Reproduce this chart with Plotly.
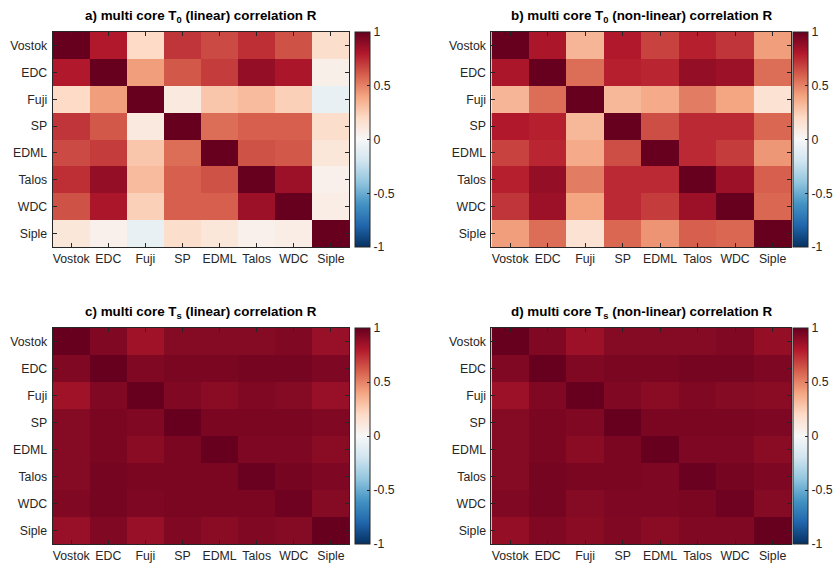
import plotly.graph_objects as go

cores = ["Vostok", "EDC", "Fuji", "SP", "EDML", "Talos", "WDC", "Siple"]
tick_vals = [-1, -0.5, 0, 0.5, 1]
tick_text = ["-1", "-0.5", "0", "0.5", "1"]

titles = [
    "<b>a) multi core T<sub>0</sub> (linear) correlation R</b>",
    "<b>b) multi core T<sub>0</sub> (non-linear) correlation R</b>",
    "<b>c) multi core T<sub>s</sub> (linear) correlation R</b>",
    "<b>d) multi core T<sub>s</sub> (non-linear) correlation R</b>",
]

r_t0_linear = [
    [1.00, 0.80, 0.20, 0.72, 0.66, 0.74, 0.64, 0.18],
    [0.80, 1.00, 0.42, 0.62, 0.70, 0.88, 0.82, 0.06],
    [0.20, 0.42, 1.00, 0.10, 0.28, 0.32, 0.24, -0.08],
    [0.72, 0.62, 0.10, 1.00, 0.56, 0.60, 0.60, 0.18],
    [0.66, 0.70, 0.28, 0.56, 1.00, 0.64, 0.62, 0.12],
    [0.74, 0.88, 0.32, 0.60, 0.64, 1.00, 0.86, 0.05],
    [0.64, 0.82, 0.24, 0.60, 0.60, 0.86, 1.00, 0.07],
    [0.12, 0.05, -0.08, 0.18, 0.12, 0.05, 0.07, 1.00],
]

r_t0_nonlinear = [
    [1.00, 0.82, 0.34, 0.80, 0.68, 0.78, 0.72, 0.42],
    [0.82, 1.00, 0.56, 0.78, 0.76, 0.88, 0.86, 0.56],
    [0.34, 0.56, 1.00, 0.33, 0.38, 0.52, 0.40, 0.15],
    [0.80, 0.78, 0.33, 1.00, 0.65, 0.75, 0.75, 0.58],
    [0.68, 0.76, 0.38, 0.65, 1.00, 0.75, 0.70, 0.44],
    [0.78, 0.88, 0.52, 0.75, 0.75, 1.00, 0.86, 0.60],
    [0.72, 0.86, 0.40, 0.75, 0.70, 0.86, 1.00, 0.58],
    [0.42, 0.56, 0.15, 0.58, 0.45, 0.60, 0.58, 1.00],
]

r_ts_linear = [
    [1.00, 0.93, 0.85, 0.92, 0.92, 0.92, 0.93, 0.87],
    [0.93, 1.00, 0.93, 0.95, 0.95, 0.96, 0.96, 0.94],
    [0.85, 0.93, 1.00, 0.93, 0.91, 0.93, 0.92, 0.87],
    [0.92, 0.95, 0.93, 1.00, 0.95, 0.95, 0.95, 0.93],
    [0.92, 0.95, 0.91, 0.95, 1.00, 0.94, 0.94, 0.91],
    [0.92, 0.96, 0.95, 0.95, 0.95, 0.99, 0.96, 0.94],
    [0.93, 0.96, 0.94, 0.95, 0.95, 0.95, 0.98, 0.92],
    [0.87, 0.93, 0.87, 0.93, 0.91, 0.93, 0.92, 1.00],
]

r_ts_nonlinear = [
    [1.00, 0.93, 0.86, 0.92, 0.92, 0.92, 0.93, 0.88],
    [0.93, 1.00, 0.93, 0.95, 0.95, 0.96, 0.96, 0.94],
    [0.86, 0.93, 1.00, 0.93, 0.91, 0.93, 0.92, 0.91],
    [0.92, 0.95, 0.93, 1.00, 0.95, 0.95, 0.95, 0.94],
    [0.92, 0.95, 0.91, 0.95, 1.00, 0.94, 0.94, 0.91],
    [0.92, 0.96, 0.95, 0.95, 0.94, 0.99, 0.96, 0.94],
    [0.93, 0.96, 0.92, 0.94, 0.94, 0.95, 0.98, 0.92],
    [0.88, 0.93, 0.91, 0.93, 0.91, 0.93, 0.93, 1.00],
]

matrices = [r_t0_linear, r_t0_nonlinear, r_ts_linear, r_ts_nonlinear]

W, H = 837, 564
# panel pixel boxes: (left, right, top, bottom, colorbar left)
boxes = [
    (53, 352, 32, 247, 358),
    (495, 797, 32, 247, 799),
    (53, 352, 328, 544, 358),
    (495, 797, 328, 544, 799),
]

colorscale = [
    [0.0, "rgb(5,48,97)"], [0.1, "rgb(33,102,172)"], [0.2, "rgb(67,147,195)"],
    [0.3, "rgb(146,197,222)"], [0.4, "rgb(209,229,240)"], [0.5, "rgb(247,247,247)"],
    [0.6, "rgb(253,219,199)"], [0.7, "rgb(244,165,130)"], [0.8, "rgb(214,96,77)"],
    [0.9, "rgb(178,24,43)"], [1.0, "rgb(103,0,31)"],
]

axcol = "#262626"
font = "Liberation Sans, Arial, sans-serif"
tsize = 12.3

fig = go.Figure()
layout = dict(
    width=W, height=H, margin=dict(l=0, r=0, t=0, b=0),
    paper_bgcolor="white", plot_bgcolor="white",
    font=dict(family=font, size=tsize, color=axcol),
    showlegend=False, annotations=[],
)

for i, (z, (l, r, t, b, cbl)) in enumerate(zip(matrices, boxes)):
    xa = "xaxis" if i == 0 else f"xaxis{i+1}"
    ya = "yaxis" if i == 0 else f"yaxis{i+1}"
    xr = "x" if i == 0 else f"x{i+1}"
    yr = "y" if i == 0 else f"y{i+1}"
    fig.add_trace(go.Heatmap(
        z=z, x=cores, y=cores, xaxis=xr, yaxis=yr,
        zmin=-1, zmax=1, colorscale=colorscale,
        hovertemplate="%{y} / %{x}: %{z}<extra></extra>",
        colorbar=dict(
            x=cbl / W, xanchor="left", xpad=0,
            y=1 - (t + b) / 2 / H, yanchor="middle", ypad=0,
            len=(b - t) / H, lenmode="fraction",
            thickness=15, thicknessmode="pixels",
            outlinewidth=1, outlinecolor=axcol,
            tickvals=tick_vals, ticktext=tick_text,
            ticks="inside", ticklen=3, tickcolor=axcol,
            tickfont=dict(family=font, size=tsize, color=axcol),
        ),
    ))
    common = dict(
        showline=True, linecolor=axcol, linewidth=1, mirror="ticks",
        ticks="inside", ticklen=4, tickcolor=axcol, showgrid=False,
        zeroline=False, tickfont=dict(family=font, size=tsize, color=axcol),
    )
    layout[xa] = dict(domain=[l / W, r / W], anchor=yr, **common)
    layout[ya] = dict(domain=[1 - b / H, 1 - t / H], anchor=xr,
                      autorange="reversed", ticklabelstandoff=2, **common)
    layout["annotations"].append(dict(
        text=titles[i], xref="paper", yref="paper",
        x=(l + r) / 2 / W, y=1 - (t - 5) / H, xanchor="center", yanchor="bottom",
        showarrow=False, font=dict(family=font, size=13.4, color="black"),
    ))

fig.update_layout(**layout)
fig.write_html("out.html", config={"displayModeBar": False})

with open("out.html", "r", encoding="utf-8") as f:
    html = f.read()
html = html.replace("<head>", "<head><style>html,body{margin:0;padding:0;overflow:hidden;}</style>", 1)
with open("out.html", "w", encoding="utf-8") as f:
    f.write(html)
